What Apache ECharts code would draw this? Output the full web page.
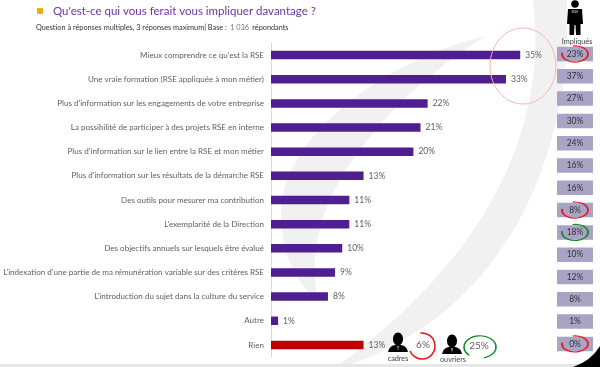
<!DOCTYPE html>
<html>
<head>
<meta charset="utf-8">
<title>RSE</title>
<style>
  html, body { margin: 0; padding: 0; background: #fff; }
  #main { width: 600px; height: 367px; filter: blur(0.35px); }
</style>
<script src="https://cdn.jsdelivr.net/npm/echarts@6/dist/echarts.min.js"></script>
</head>
<body>
<div id="main"></div>
<script>
var categories = [
  "Mieux comprendre ce qu'est la RSE",
  'Une vraie formation (RSE appliquée à mon métier)',
  "Plus d'information sur les engagements de votre entreprise",
  'La possibilité de participer à des projets RSE en interne',
  "Plus d'information sur le lien entre la RSE et mon métier",
  "Plus d'information sur les résultats de la démarche RSE",
  'Des outils pour mesurer ma contribution',
  "L'exemplarité de la Direction",
  'Des objectifs annuels sur lesquels être évalué',
  "L'indexation d'une partie de ma rémunération variable sur des critères RSE",
  "L'introduction du sujet dans la culture du service",
  'Autre',
  'Rien'
];
var values = [35, 33, 22, 21, 20, 13, 11, 11, 10, 9, 8, 1, 13];
var impliques = [23, 37, 27, 30, 24, 16, 16, 8, 18, 10, 12, 8, 1, 0];
var ringRows = [0, 7, 8, 13];
var ringColors = ['#f01414', '#f01414', '#118a1e', '#f01414'];
var cadres = '6%';
var ouvriers = '25%';

var FONT = 'Lato, "Open Sans", sans-serif';
var GREY = '#5f5f5f';

var rowIndex = impliques.map(function (v, i) { return i; });

// le type path n'existe que dans les series custom
function pathEl(d, fill) {
  return { type: 'path', shape: { pathData: d, x: 0, y: 0, width: 600, height: 367, layout: 'cover' }, style: { fill: fill } };
}

function decor(z, children) {
  return {
    type: 'custom',
    coordinateSystem: 'none',
    silent: true,
    z: z,
    data: [0],
    renderItem: function () {
      return { type: 'group', children: children };
    }
  };
}

// un cadre de 600x367 pour que layout cover garde les coordonnees de la page
var frame = 'M0 0 M600 367 ';

// silhouette des personnages
function person(cx, top, tie) {
  return [
    { type: 'ellipse', shape: { cx: cx, cy: top + 7, rx: 5, ry: 6.5 }, style: { fill: '#000' } },
    pathEl(frame + 'M' + (cx - 10) + ' ' + (top + 20) + ' Q' + (cx - 9) + ' ' + (top + 14) + ' ' + (cx - 3) + ' ' + (top + 13) +
      ' L' + (cx + 3) + ' ' + (top + 13) + ' Q' + (cx + 9) + ' ' + (top + 14) + ' ' + (cx + 10) + ' ' + (top + 20) + ' Z', '#000'),
    { type: 'polygon', shape: { points: [[cx - 1, top + 14], [cx + 1, top + 14], [cx, top + 19]] }, style: { fill: tie } }
  ];
}

var backShapes = [
  pathEl(frame + 'M533 0 C545 100 515 235 340 364 L352 364 C525 300 572 130 567 0 Z', '#f1f1f1'),
  pathEl(frame + 'M486 36 C400 55 280 130 281 215 C281 255 298 285 318 300 C312 270 312 230 340 180 C375 120 430 70 486 36 Z', '#f1f1f1')
];

var iconShapes = [
  pathEl(frame + 'M573 367 Q591 361 600 346 L600 367 Z', '#000'),
  { type: 'circle', shape: { cx: 575, cy: 4, r: 3.8 }, style: { fill: '#000' } },
  pathEl(frame + 'M568 9 L582 9 L583 24 L580.5 24 L580.5 35 L576 35 L575.5 25 L574.5 25 L574 35 L569.5 35 L569.5 24 L567 24 Z', '#000')
].concat(person(398, 332, '#888'), person(452, 334, '#999'));

var graphics = [
  { type: 'rect', z: -9, shape: { x: 0, y: 364, width: 600, height: 3 }, style: { fill: '#e6e6e6' } },
  // titre
  { type: 'rect', z: 5, shape: { x: 37, y: 8, width: 6, height: 6, r: 1 }, style: { fill: '#f5a81c' } },
  { type: 'text', z: 5, x: 53, y: 11, style: { text: "Qu'est-ce qui vous ferait vous impliquer davantage ?", font: '11.5px ' + FONT, fill: '#6a35a5', textVerticalAlign: 'middle' } },
  { type: 'text', z: 5, x: 36, y: 28, style: {
    text: '{a|Question à réponses multiples, 3 réponses maximum| Base :} {b|1 036} {a|répondants}',
    textVerticalAlign: 'middle',
    rich: {
      a: { font: '7.3px ' + FONT, fill: '#333' },
      b: { font: '7.3px ' + FONT, fill: '#777' }
    }
  } },
  // annotations
  { type: 'ellipse', z: 10, shape: { cx: 523, cy: 66, rx: 33, ry: 38 }, style: { fill: 'none', stroke: '#f6b4b0', lineWidth: 1 } },
  { type: 'text', z: 20, x: 575, y: 11.5, style: { text: 'RSE', font: '4px ' + FONT, fill: '#ccc', textAlign: 'center', textVerticalAlign: 'middle' } },
  { type: 'text', z: 5, x: 577, y: 42, style: { text: 'Impliqués', font: '7.3px ' + FONT, fill: '#444', textAlign: 'center', textVerticalAlign: 'middle' } },
  // cadres / ouvriers
  { type: 'text', z: 5, x: 398, y: 359, style: { text: 'cadres', font: '7.3px ' + FONT, fill: '#444', textAlign: 'center', textVerticalAlign: 'middle' } },
  { type: 'text', z: 5, x: 453, y: 360, style: { text: 'ouvriers', font: '7.3px ' + FONT, fill: '#444', textAlign: 'center', textVerticalAlign: 'middle' } },
  { type: 'text', z: 5, x: 423, y: 345, style: { text: cadres, font: '10px ' + FONT, fill: GREY, textAlign: 'center', textVerticalAlign: 'middle' } },
  { type: 'text', z: 5, x: 479, y: 346, style: { text: ouvriers, font: '10px ' + FONT, fill: GREY, textAlign: 'center', textVerticalAlign: 'middle' } },
  { type: 'arc', z: 10, x: 422, y: 346, shape: { r: 13, startAngle: -1.7, endAngle: 2.75 }, style: { fill: 'none', stroke: '#f01414', lineWidth: 1.5 } },
  { type: 'arc', z: 10, x: 480, y: 347, scaleY: 0.7, shape: { r: 16, startAngle: 2.3, endAngle: 7.6 }, style: { fill: 'none', stroke: '#118a1e', lineWidth: 1.6 } }
];

var chart = echarts.init(document.getElementById('main'), null, { renderer: 'canvas' });
chart.setOption({
  animation: false,
  textStyle: { fontFamily: FONT },
  graphic: graphics,
  grid: [
    { left: 271, top: 43, width: 284.8, height: 314, outerBoundsMode: 'none' },
    { left: 555, top: 42.85, width: 40, height: 312.2, outerBoundsMode: 'none' }
  ],
  xAxis: [
    { gridIndex: 0, type: 'value', min: 0, max: 40, show: false },
    { gridIndex: 1, type: 'category', data: ['Impliqués'], show: false }
  ],
  yAxis: [
    {
      gridIndex: 0,
      type: 'category',
      inverse: true,
      data: categories,
      axisTick: { show: false },
      axisLine: { lineStyle: { color: '#d9d9d9' } },
      axisLabel: { interval: 0, margin: 7, fontSize: 8.05, color: GREY, fontFamily: FONT }
    },
    { gridIndex: 1, type: 'category', inverse: true, data: rowIndex, show: false }
  ],
  series: [
    decor(-5, backShapes),
    decor(8, iconShapes),
    {
      type: 'bar',
      xAxisIndex: 0,
      yAxisIndex: 0,
      data: values,
      barWidth: 8.5,
      itemStyle: {
        color: function (p) { return p.name === 'Rien' ? '#c00000' : '#4f1f91'; }
      },
      label: {
        show: true,
        position: 'right',
        distance: 5,
        formatter: '{c}%',
        fontSize: 8.5,
        color: GREY,
        fontFamily: FONT
      }
    },
    {
      type: 'scatter',
      xAxisIndex: 1,
      yAxisIndex: 1,
      symbol: 'rect',
      symbolSize: [36, 14.5],
      itemStyle: { color: '#a9a3c6', opacity: 1 },
      data: impliques.map(function (v, i) { return [0, i, v]; }),
      label: {
        show: true,
        position: 'inside',
        formatter: function (p) { return p.value[2] + '%'; },
        fontSize: 8.5,
        color: '#333',
        fontFamily: FONT
      }
    },
    {
      type: 'custom',
      xAxisIndex: 1,
      yAxisIndex: 1,
      z: 5,
      data: ringRows.map(function (r, i) { return [0, r, i]; }),
      renderItem: function (params, api) {
        var pt = api.coord([api.value(0), api.value(1)]);
        return {
          type: 'arc',
          x: pt[0],
          y: pt[1],
          scaleY: 0.62,
          shape: { r: 13, startAngle: -1.75, endAngle: 3.3 },
          style: { fill: 'none', stroke: ringColors[api.value(2)], lineWidth: 1.8 }
        };
      }
    }
  ]
});
</script>
</body>
</html>
